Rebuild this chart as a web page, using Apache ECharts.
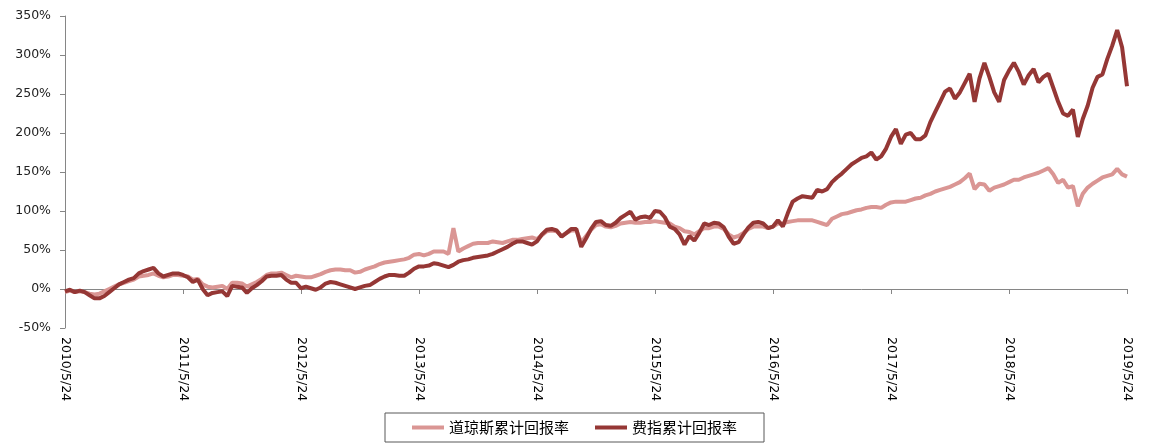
<!DOCTYPE html>
<html><head><meta charset="utf-8">
<script src="https://cdn.jsdelivr.net/npm/echarts@6/dist/echarts.min.js"></script>
<style>html,body{margin:0;padding:0;background:#fff}#c{width:1151px;height:446px}</style>
</head><body><div id="c"></div>
<script>
const seriesNames = ['道琼斯累计回报率', '费指累计回报率'];
// semi-monthly cumulative returns (%), 2010/5/24 .. 2019/5/24
const dowReturn = [
  -4,-2,-4,-3,-4,-6,-7,-6,-3,0, 3,6,8,10,12,16,17,18,20,17, 15,16,18,18,17,16,12,13,6,3, 2,3,4,0,8,8,7,3,6,9, 13,18,20,20,21,18,15,17,
  16,15,15,17,19,22,24,25,25,24, 24,21,22,25,27,29,32,34,35,36, 37,38,40,44,45,43,45,48,48,48, 45,78,48,52,55,58,59,59,59,61, 60,59,61,63,63,64,65,66,
  64,69,74,75,74,68,72,75,75,60, 68,76,82,83,80,79,81,84,85,86, 85,85,86,86,87,86,85,84,80,78, 74,73,70,74,78,78,80,80,77,70, 66,68,72,77,80,80,80,78,
  80,84,84,86,87,88,88,88,88,86, 84,82,90,93,96,97,99,101,102,104, 105,105,104,108,111,112,112,112,114,116, 117,120,122,125,127,129,131,134,137,142,
  148,128,135,134,126,130,132,134,137,140, 140,143,145,147,149,152,155,147,136,140, 130,132,106,122,130,135,139,143,145,147, 154,147,144
];
const phlxReturn = [
  -3,-1,-4,-2,-4,-8,-12,-12,-9,-4, 1,6,9,12,14,20,23,25,27,20, 16,18,20,20,18,15,9,12,0,-8, -5,-4,-3,-9,4,3,2,-5,1,5, 10,16,17,17,18,12,8,8,
  1,3,1,-1,2,7,9,8,6,4, 2,0,2,4,5,9,13,16,18,18, 17,17,21,26,29,29,30,33,32,30, 28,31,35,37,38,40,41,42,43,45, 48,51,54,58,61,61,59,57,
  61,70,76,77,75,67,72,77,77,54, 65,77,86,87,82,81,85,91,95,99, 89,92,93,91,100,99,92,80,77,70, 57,68,62,72,84,82,85,84,79,67, 58,60,70,79,85,86,84,78,
  80,88,80,97,112,116,119,118,117,127, 125,128,137,143,148,154,160,164,168,170, 175,166,170,180,195,205,186,198,200,192, 192,197,214,227,240,253,257,244,252,264,
  276,240,270,290,272,252,240,268,280,290, 278,262,274,282,265,272,276,258,240,225, 222,230,195,218,235,258,272,275,295,312, 332,310,260
];
const yMin = -50, yMax = 350, yStep = 50;

// category dates: every half month from 2010/5/24
const categories = [];
for (let i = 0; i < dowReturn.length; i++) {
  const m0 = 5 + (i % 2 === 0 ? i / 2 : (i + 1) / 2);
  const y = 2010 + Math.floor((m0 - 1) / 12);
  const m = ((m0 - 1) % 12) + 1;
  const d = i % 2 === 0 ? 24 : 8;
  categories.push(y + '/' + m + '/' + d);
}

const axisGray = '#868686';
const chart = echarts.init(document.getElementById('c'), null, {renderer: 'canvas'});
chart.setOption({
  animation: false,
  backgroundColor: '#fff',
  grid: {left: 65, right: 24, top: 16, bottom: 118, containLabel: false},
  legend: {
    data: seriesNames,
    left: 385, top: 413,
    padding: [7, 27],
    borderColor: '#595959', borderWidth: 1,
    icon: 'rect', itemWidth: 32, itemHeight: 4, itemGap: 26,
    textStyle: {fontSize: 15, color: '#000', fontFamily: 'Noto Sans CJK SC'}
  },
  xAxis: [
    {
      type: 'category', data: categories, boundaryGap: false, position: 'bottom',
      axisLine: {show: false, onZero: false}, axisTick: {show: false},
      axisLabel: {interval: 23, rotate: -90, margin: 9, fontSize: 12.5, color: '#000', fontFamily: 'DejaVu Sans'},
      splitLine: {show: false}
    },
    {
      type: 'category', data: categories, boundaryGap: false, position: 'bottom',
      axisLine: {show: true, onZero: true, lineStyle: {color: axisGray, width: 1}},
      axisTick: {show: true, interval: 23, length: 5, lineStyle: {color: axisGray}},
      axisLabel: {show: false}, splitLine: {show: false}
    }
  ],
  yAxis: {
    type: 'value', min: yMin, max: yMax, interval: yStep,
    axisLine: {show: true, lineStyle: {color: axisGray}},
    axisTick: {show: true, length: 5, lineStyle: {color: axisGray}},
    splitLine: {show: false},
    axisLabel: {formatter: '{value}%', fontSize: 12.5, color: '#222', margin: 14, fontFamily: 'DejaVu Sans'}
  },
  series: [
    {name: seriesNames[0], type: 'line', xAxisIndex: 0, data: dowReturn, showSymbol: false, symbol: 'none',
     color: '#DA9694', lineStyle: {width: 4, color: '#DA9694'}},
    {name: seriesNames[1], type: 'line', xAxisIndex: 0, data: phlxReturn, showSymbol: false, symbol: 'none',
     color: '#953735', lineStyle: {width: 4, color: '#953735'}}
  ]
});
</script>
</body></html>
